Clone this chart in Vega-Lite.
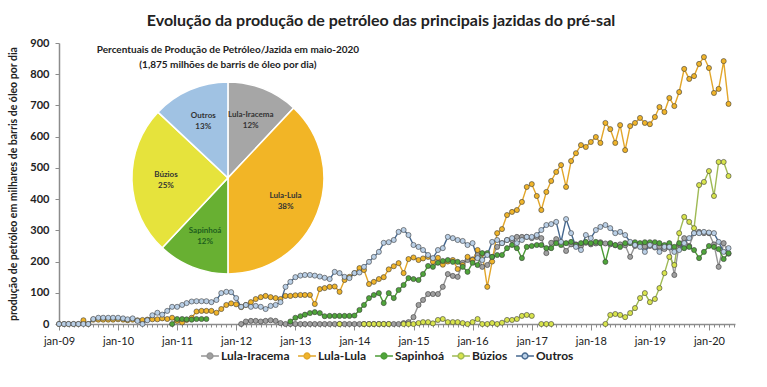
{
"$schema": "https://vega.github.io/schema/vega-lite/v6.json",
"width": 676,
"height": 281,
"autosize": {"type": "none"},
"padding": {"left": 59, "top": 43, "right": 32, "bottom": 63},
"background": "white",
"title": {"text": "Evolução da produção de petróleo das principais jazidas do pré-sal", "font": "Lato", "fontSize": 16, "fontWeight": "bold", "color": "#222222", "anchor": "middle", "dx": -16, "offset": 8},
"config": {"view": {"stroke": null}, "font": "Lato"},
"data": {"values": [
{"m":"2009-01-01","Lula-Iracema":null,"Lula-Lula":0,"Sapinhoá":null,"Búzios":null,"Outros":0},
{"m":"2009-02-01","Lula-Iracema":null,"Lula-Lula":0,"Sapinhoá":null,"Búzios":null,"Outros":0},
{"m":"2009-03-01","Lula-Iracema":null,"Lula-Lula":0,"Sapinhoá":null,"Búzios":null,"Outros":0},
{"m":"2009-04-01","Lula-Iracema":null,"Lula-Lula":0,"Sapinhoá":null,"Búzios":null,"Outros":0},
{"m":"2009-05-01","Lula-Iracema":null,"Lula-Lula":0,"Sapinhoá":null,"Búzios":null,"Outros":0},
{"m":"2009-06-01","Lula-Iracema":null,"Lula-Lula":12,"Sapinhoá":null,"Búzios":null,"Outros":0},
{"m":"2009-07-01","Lula-Iracema":null,"Lula-Lula":0,"Sapinhoá":null,"Búzios":null,"Outros":0},
{"m":"2009-08-01","Lula-Iracema":null,"Lula-Lula":14,"Sapinhoá":null,"Búzios":null,"Outros":16},
{"m":"2009-09-01","Lula-Iracema":null,"Lula-Lula":14,"Sapinhoá":null,"Búzios":null,"Outros":20},
{"m":"2009-10-01","Lula-Iracema":null,"Lula-Lula":14,"Sapinhoá":null,"Búzios":null,"Outros":20},
{"m":"2009-11-01","Lula-Iracema":null,"Lula-Lula":14,"Sapinhoá":null,"Búzios":null,"Outros":20},
{"m":"2009-12-01","Lula-Iracema":null,"Lula-Lula":14,"Sapinhoá":null,"Búzios":null,"Outros":20},
{"m":"2010-01-01","Lula-Iracema":null,"Lula-Lula":15,"Sapinhoá":null,"Búzios":null,"Outros":20},
{"m":"2010-02-01","Lula-Iracema":null,"Lula-Lula":14,"Sapinhoá":null,"Búzios":null,"Outros":18},
{"m":"2010-03-01","Lula-Iracema":null,"Lula-Lula":12,"Sapinhoá":null,"Búzios":null,"Outros":15},
{"m":"2010-04-01","Lula-Iracema":null,"Lula-Lula":14,"Sapinhoá":null,"Búzios":null,"Outros":18},
{"m":"2010-05-01","Lula-Iracema":null,"Lula-Lula":12,"Sapinhoá":null,"Búzios":null,"Outros":10},
{"m":"2010-06-01","Lula-Iracema":null,"Lula-Lula":13,"Sapinhoá":null,"Búzios":null,"Outros":0},
{"m":"2010-07-01","Lula-Iracema":null,"Lula-Lula":14,"Sapinhoá":null,"Búzios":null,"Outros":12},
{"m":"2010-08-01","Lula-Iracema":null,"Lula-Lula":15,"Sapinhoá":null,"Búzios":null,"Outros":28},
{"m":"2010-09-01","Lula-Iracema":null,"Lula-Lula":15,"Sapinhoá":null,"Búzios":null,"Outros":36},
{"m":"2010-10-01","Lula-Iracema":null,"Lula-Lula":18,"Sapinhoá":null,"Búzios":null,"Outros":30},
{"m":"2010-11-01","Lula-Iracema":null,"Lula-Lula":16,"Sapinhoá":null,"Búzios":null,"Outros":42},
{"m":"2010-12-01","Lula-Iracema":null,"Lula-Lula":20,"Sapinhoá":0,"Búzios":null,"Outros":55},
{"m":"2011-01-01","Lula-Iracema":null,"Lula-Lula":10,"Sapinhoá":16,"Búzios":null,"Outros":55},
{"m":"2011-02-01","Lula-Iracema":null,"Lula-Lula":5,"Sapinhoá":16,"Búzios":null,"Outros":61},
{"m":"2011-03-01","Lula-Iracema":null,"Lula-Lula":13,"Sapinhoá":15,"Búzios":null,"Outros":67},
{"m":"2011-04-01","Lula-Iracema":null,"Lula-Lula":20,"Sapinhoá":14,"Búzios":null,"Outros":72},
{"m":"2011-05-01","Lula-Iracema":null,"Lula-Lula":40,"Sapinhoá":16,"Búzios":null,"Outros":73},
{"m":"2011-06-01","Lula-Iracema":null,"Lula-Lula":42,"Sapinhoá":16,"Búzios":null,"Outros":73},
{"m":"2011-07-01","Lula-Iracema":null,"Lula-Lula":42,"Sapinhoá":16,"Búzios":null,"Outros":73},
{"m":"2011-08-01","Lula-Iracema":null,"Lula-Lula":42,"Sapinhoá":null,"Búzios":null,"Outros":70},
{"m":"2011-09-01","Lula-Iracema":null,"Lula-Lula":36,"Sapinhoá":null,"Búzios":null,"Outros":77},
{"m":"2011-10-01","Lula-Iracema":null,"Lula-Lula":48,"Sapinhoá":null,"Búzios":null,"Outros":99},
{"m":"2011-11-01","Lula-Iracema":null,"Lula-Lula":61,"Sapinhoá":null,"Búzios":null,"Outros":103},
{"m":"2011-12-01","Lula-Iracema":null,"Lula-Lula":66,"Sapinhoá":null,"Búzios":null,"Outros":102},
{"m":"2012-01-01","Lula-Iracema":null,"Lula-Lula":63,"Sapinhoá":null,"Búzios":null,"Outros":83},
{"m":"2012-02-01","Lula-Iracema":0,"Lula-Lula":54,"Sapinhoá":null,"Búzios":null,"Outros":55},
{"m":"2012-03-01","Lula-Iracema":8,"Lula-Lula":61,"Sapinhoá":null,"Búzios":null,"Outros":61},
{"m":"2012-04-01","Lula-Iracema":10,"Lula-Lula":70,"Sapinhoá":null,"Búzios":null,"Outros":55},
{"m":"2012-05-01","Lula-Iracema":10,"Lula-Lula":80,"Sapinhoá":null,"Búzios":null,"Outros":58},
{"m":"2012-06-01","Lula-Iracema":8,"Lula-Lula":86,"Sapinhoá":null,"Búzios":null,"Outros":55},
{"m":"2012-07-01","Lula-Iracema":10,"Lula-Lula":90,"Sapinhoá":null,"Búzios":null,"Outros":48},
{"m":"2012-08-01","Lula-Iracema":12,"Lula-Lula":86,"Sapinhoá":null,"Búzios":null,"Outros":58},
{"m":"2012-09-01","Lula-Iracema":10,"Lula-Lula":83,"Sapinhoá":null,"Búzios":null,"Outros":61},
{"m":"2012-10-01","Lula-Iracema":3,"Lula-Lula":80,"Sapinhoá":null,"Búzios":null,"Outros":70},
{"m":"2012-11-01","Lula-Iracema":0,"Lula-Lula":90,"Sapinhoá":null,"Búzios":null,"Outros":119},
{"m":"2012-12-01","Lula-Iracema":0,"Lula-Lula":90,"Sapinhoá":8,"Búzios":null,"Outros":135},
{"m":"2013-01-01","Lula-Iracema":0,"Lula-Lula":92,"Sapinhoá":20,"Búzios":null,"Outros":150},
{"m":"2013-02-01","Lula-Iracema":0,"Lula-Lula":93,"Sapinhoá":25,"Búzios":null,"Outros":155},
{"m":"2013-03-01","Lula-Iracema":0,"Lula-Lula":93,"Sapinhoá":30,"Búzios":null,"Outros":157},
{"m":"2013-04-01","Lula-Iracema":0,"Lula-Lula":93,"Sapinhoá":35,"Búzios":null,"Outros":157},
{"m":"2013-05-01","Lula-Iracema":0,"Lula-Lula":64,"Sapinhoá":38,"Búzios":null,"Outros":155},
{"m":"2013-06-01","Lula-Iracema":0,"Lula-Lula":112,"Sapinhoá":35,"Búzios":null,"Outros":152},
{"m":"2013-07-01","Lula-Iracema":0,"Lula-Lula":115,"Sapinhoá":25,"Búzios":null,"Outros":148},
{"m":"2013-08-01","Lula-Iracema":0,"Lula-Lula":119,"Sapinhoá":26,"Búzios":null,"Outros":144},
{"m":"2013-09-01","Lula-Iracema":0,"Lula-Lula":120,"Sapinhoá":26,"Búzios":null,"Outros":167},
{"m":"2013-10-01","Lula-Iracema":0,"Lula-Lula":103,"Sapinhoá":26,"Búzios":0,"Outros":163},
{"m":"2013-11-01","Lula-Iracema":0,"Lula-Lula":141,"Sapinhoá":26,"Búzios":null,"Outros":151},
{"m":"2013-12-01","Lula-Iracema":0,"Lula-Lula":151,"Sapinhoá":26,"Búzios":null,"Outros":147},
{"m":"2014-01-01","Lula-Iracema":0,"Lula-Lula":163,"Sapinhoá":27,"Búzios":null,"Outros":163},
{"m":"2014-02-01","Lula-Iracema":0,"Lula-Lula":179,"Sapinhoá":45,"Búzios":null,"Outros":165},
{"m":"2014-03-01","Lula-Iracema":0,"Lula-Lula":173,"Sapinhoá":61,"Búzios":0,"Outros":183},
{"m":"2014-04-01","Lula-Iracema":0,"Lula-Lula":128,"Sapinhoá":83,"Búzios":0,"Outros":199},
{"m":"2014-05-01","Lula-Iracema":0,"Lula-Lula":135,"Sapinhoá":93,"Búzios":0,"Outros":215},
{"m":"2014-06-01","Lula-Iracema":0,"Lula-Lula":144,"Sapinhoá":99,"Búzios":0,"Outros":231},
{"m":"2014-07-01","Lula-Iracema":0,"Lula-Lula":150,"Sapinhoá":67,"Búzios":0,"Outros":260},
{"m":"2014-08-01","Lula-Iracema":0,"Lula-Lula":175,"Sapinhoá":99,"Búzios":0,"Outros":262},
{"m":"2014-09-01","Lula-Iracema":0,"Lula-Lula":185,"Sapinhoá":83,"Búzios":null,"Outros":269},
{"m":"2014-10-01","Lula-Iracema":0,"Lula-Lula":195,"Sapinhoá":109,"Búzios":null,"Outros":295},
{"m":"2014-11-01","Lula-Iracema":3,"Lula-Lula":163,"Sapinhoá":125,"Búzios":0,"Outros":301},
{"m":"2014-12-01","Lula-Iracema":6,"Lula-Lula":208,"Sapinhoá":147,"Búzios":0,"Outros":285},
{"m":"2015-01-01","Lula-Iracema":22,"Lula-Lula":213,"Sapinhoá":144,"Búzios":0,"Outros":253},
{"m":"2015-02-01","Lula-Iracema":61,"Lula-Lula":205,"Sapinhoá":141,"Búzios":3,"Outros":247},
{"m":"2015-03-01","Lula-Iracema":77,"Lula-Lula":210,"Sapinhoá":160,"Búzios":6,"Outros":237},
{"m":"2015-04-01","Lula-Iracema":96,"Lula-Lula":215,"Sapinhoá":186,"Búzios":6,"Outros":221},
{"m":"2015-05-01","Lula-Iracema":96,"Lula-Lula":199,"Sapinhoá":183,"Búzios":2,"Outros":211},
{"m":"2015-06-01","Lula-Iracema":96,"Lula-Lula":212,"Sapinhoá":196,"Búzios":13,"Outros":237},
{"m":"2015-07-01","Lula-Iracema":119,"Lula-Lula":190,"Sapinhoá":202,"Búzios":16,"Outros":243},
{"m":"2015-08-01","Lula-Iracema":160,"Lula-Lula":200,"Sapinhoá":205,"Búzios":6,"Outros":279},
{"m":"2015-09-01","Lula-Iracema":154,"Lula-Lula":205,"Sapinhoá":199,"Búzios":6,"Outros":275},
{"m":"2015-10-01","Lula-Iracema":151,"Lula-Lula":176,"Sapinhoá":199,"Búzios":6,"Outros":269},
{"m":"2015-11-01","Lula-Iracema":196,"Lula-Lula":189,"Sapinhoá":183,"Búzios":3,"Outros":266},
{"m":"2015-12-01","Lula-Iracema":205,"Lula-Lula":215,"Sapinhoá":167,"Búzios":0,"Outros":253},
{"m":"2016-01-01","Lula-Iracema":207,"Lula-Lula":205,"Sapinhoá":196,"Búzios":6,"Outros":259},
{"m":"2016-02-01","Lula-Iracema":221,"Lula-Lula":237,"Sapinhoá":189,"Búzios":16,"Outros":211},
{"m":"2016-03-01","Lula-Iracema":183,"Lula-Lula":225,"Sapinhoá":227,"Búzios":0,"Outros":205},
{"m":"2016-04-01","Lula-Iracema":189,"Lula-Lula":119,"Sapinhoá":227,"Búzios":0,"Outros":221},
{"m":"2016-05-01","Lula-Iracema":215,"Lula-Lula":200,"Sapinhoá":215,"Búzios":3,"Outros":263},
{"m":"2016-06-01","Lula-Iracema":247,"Lula-Lula":291,"Sapinhoá":221,"Búzios":0,"Outros":269},
{"m":"2016-07-01","Lula-Iracema":259,"Lula-Lula":304,"Sapinhoá":221,"Búzios":4,"Outros":259},
{"m":"2016-08-01","Lula-Iracema":269,"Lula-Lula":349,"Sapinhoá":243,"Búzios":13,"Outros":269},
{"m":"2016-09-01","Lula-Iracema":269,"Lula-Lula":359,"Sapinhoá":253,"Búzios":13,"Outros":275},
{"m":"2016-10-01","Lula-Iracema":279,"Lula-Lula":365,"Sapinhoá":243,"Búzios":16,"Outros":259},
{"m":"2016-11-01","Lula-Iracema":279,"Lula-Lula":391,"Sapinhoá":211,"Búzios":26,"Outros":269},
{"m":"2016-12-01","Lula-Iracema":279,"Lula-Lula":439,"Sapinhoá":247,"Búzios":29,"Outros":279},
{"m":"2017-01-01","Lula-Iracema":275,"Lula-Lula":448,"Sapinhoá":250,"Búzios":26,"Outros":279},
{"m":"2017-02-01","Lula-Iracema":279,"Lula-Lula":410,"Sapinhoá":253,"Búzios":null,"Outros":285},
{"m":"2017-03-01","Lula-Iracema":275,"Lula-Lula":365,"Sapinhoá":253,"Búzios":0,"Outros":301},
{"m":"2017-04-01","Lula-Iracema":227,"Lula-Lula":423,"Sapinhoá":243,"Búzios":0,"Outros":317},
{"m":"2017-05-01","Lula-Iracema":260,"Lula-Lula":458,"Sapinhoá":243,"Búzios":0,"Outros":320},
{"m":"2017-06-01","Lula-Iracema":272,"Lula-Lula":487,"Sapinhoá":259,"Búzios":null,"Outros":327},
{"m":"2017-07-01","Lula-Iracema":260,"Lula-Lula":509,"Sapinhoá":253,"Búzios":null,"Outros":263},
{"m":"2017-08-01","Lula-Iracema":234,"Lula-Lula":439,"Sapinhoá":259,"Búzios":null,"Outros":336},
{"m":"2017-09-01","Lula-Iracema":255,"Lula-Lula":522,"Sapinhoá":263,"Búzios":null,"Outros":291},
{"m":"2017-10-01","Lula-Iracema":255,"Lula-Lula":547,"Sapinhoá":253,"Búzios":null,"Outros":247},
{"m":"2017-11-01","Lula-Iracema":250,"Lula-Lula":573,"Sapinhoá":259,"Búzios":null,"Outros":237},
{"m":"2017-12-01","Lula-Iracema":260,"Lula-Lula":567,"Sapinhoá":263,"Búzios":null,"Outros":285},
{"m":"2018-01-01","Lula-Iracema":255,"Lula-Lula":583,"Sapinhoá":259,"Búzios":null,"Outros":275},
{"m":"2018-02-01","Lula-Iracema":258,"Lula-Lula":599,"Sapinhoá":263,"Búzios":null,"Outros":301},
{"m":"2018-03-01","Lula-Iracema":262,"Lula-Lula":580,"Sapinhoá":259,"Búzios":null,"Outros":311},
{"m":"2018-04-01","Lula-Iracema":258,"Lula-Lula":644,"Sapinhoá":199,"Búzios":0,"Outros":317},
{"m":"2018-05-01","Lula-Iracema":255,"Lula-Lula":624,"Sapinhoá":259,"Búzios":29,"Outros":307},
{"m":"2018-06-01","Lula-Iracema":252,"Lula-Lula":580,"Sapinhoá":253,"Búzios":32,"Outros":291},
{"m":"2018-07-01","Lula-Iracema":255,"Lula-Lula":637,"Sapinhoá":247,"Búzios":29,"Outros":295},
{"m":"2018-08-01","Lula-Iracema":252,"Lula-Lula":557,"Sapinhoá":259,"Búzios":22,"Outros":285},
{"m":"2018-09-01","Lula-Iracema":215,"Lula-Lula":634,"Sapinhoá":259,"Búzios":35,"Outros":263},
{"m":"2018-10-01","Lula-Iracema":250,"Lula-Lula":644,"Sapinhoá":262,"Búzios":51,"Outros":253},
{"m":"2018-11-01","Lula-Iracema":253,"Lula-Lula":660,"Sapinhoá":259,"Búzios":83,"Outros":247},
{"m":"2018-12-01","Lula-Iracema":248,"Lula-Lula":644,"Sapinhoá":262,"Búzios":99,"Outros":231},
{"m":"2019-01-01","Lula-Iracema":250,"Lula-Lula":640,"Sapinhoá":262,"Búzios":70,"Outros":253},
{"m":"2019-02-01","Lula-Iracema":245,"Lula-Lula":663,"Sapinhoá":262,"Búzios":80,"Outros":247},
{"m":"2019-03-01","Lula-Iracema":248,"Lula-Lula":695,"Sapinhoá":259,"Búzios":115,"Outros":231},
{"m":"2019-04-01","Lula-Iracema":240,"Lula-Lula":679,"Sapinhoá":253,"Búzios":163,"Outros":247},
{"m":"2019-05-01","Lula-Iracema":245,"Lula-Lula":724,"Sapinhoá":259,"Búzios":215,"Outros":247},
{"m":"2019-06-01","Lula-Iracema":157,"Lula-Lula":698,"Sapinhoá":247,"Búzios":189,"Outros":231},
{"m":"2019-07-01","Lula-Iracema":255,"Lula-Lula":743,"Sapinhoá":259,"Búzios":291,"Outros":237},
{"m":"2019-08-01","Lula-Iracema":275,"Lula-Lula":817,"Sapinhoá":243,"Búzios":343,"Outros":259},
{"m":"2019-09-01","Lula-Iracema":250,"Lula-Lula":785,"Sapinhoá":247,"Búzios":327,"Outros":275},
{"m":"2019-10-01","Lula-Iracema":291,"Lula-Lula":794,"Sapinhoá":237,"Búzios":307,"Outros":291},
{"m":"2019-11-01","Lula-Iracema":295,"Lula-Lula":833,"Sapinhoá":211,"Búzios":445,"Outros":291},
{"m":"2019-12-01","Lula-Iracema":291,"Lula-Lula":855,"Sapinhoá":231,"Búzios":455,"Outros":295},
{"m":"2020-01-01","Lula-Iracema":291,"Lula-Lula":820,"Sapinhoá":250,"Búzios":490,"Outros":293},
{"m":"2020-02-01","Lula-Iracema":255,"Lula-Lula":740,"Sapinhoá":247,"Búzios":410,"Outros":291},
{"m":"2020-03-01","Lula-Iracema":183,"Lula-Lula":753,"Sapinhoá":240,"Búzios":519,"Outros":263},
{"m":"2020-04-01","Lula-Iracema":259,"Lula-Lula":842,"Sapinhoá":208,"Búzios":519,"Outros":231},
{"m":"2020-05-01","Lula-Iracema":225,"Lula-Lula":705,"Sapinhoá":227,"Búzios":474,"Outros":243}
]},
"layer": [
{
"transform": [{"fold": ["Lula-Iracema", "Lula-Lula", "Sapinhoá", "Búzios", "Outros"], "as": ["jazida", "valor"]}],
"mark": {"type": "line", "strokeWidth": 1.4, "invalid": "break-paths-show-domains"},
"encoding": {
"x": {"field": "m", "type": "temporal", "scale": {"type": "utc", "domain": ["2009-01-01", "2020-06-10"]},
"axis": {"title": null, "tickCount": {"interval": "month", "step": 1}, "labelExpr": "utcmonth(datum.value) == 0 ? 'jan-' + utcFormat(datum.value, '%y') : ''", "labelOverlap": false, "labelFlush": false, "grid": false, "domainColor": "#8c8c8c", "domainWidth": 1.5, "tickColor": "#8c8c8c", "tickSize": {"condition": {"test": "utcmonth(datum.value) == 0", "value": 6}, "value": 3}, "labelFont": "Lato", "labelFontSize": 11, "labelColor": "#222222", "labelPadding": 5}},
"y": {"field": "valor", "type": "quantitative", "scale": {"domain": [0, 900], "nice": false},
"axis": {"title": "produção de petróleo em milhares de barris de óleo por dia", "titleFont": "Lato", "titleFontSize": 10.5, "titleFontWeight": "bold", "titleColor": "#222222", "titlePadding": 11, "values": [0,100,200,300,400,500,600,700,800,900], "tickCount": 10, "labelOverlap": false, "labelFlush": false, "grid": false, "labelFont": "Lato", "labelFontSize": 11, "labelFontWeight": "bold", "labelColor": "#222222", "labelPadding": 6, "tickSize": 4, "domainColor": "#8c8c8c", "domainWidth": 1.5, "tickColor": "#8c8c8c"}},
"stroke": {"field": "jazida", "type": "nominal",
"scale": {"domain": ["Lula-Iracema", "Lula-Lula", "Sapinhoá", "Búzios", "Outros"], "range": ["#959595", "#e2a62a", "#4c9c36", "#9fba55", "#46688f"]},
"legend": {"orient": "none", "legendX": 141, "legendY": 303, "direction": "horizontal", "title": null, "labelFont": "Lato", "labelFontSize": 12, "labelFontWeight": "bold", "labelColor": "#222222", "symbolType": "M-1,0H-0.33M0.33,0H1M-0.33,0A0.33,0.33 0 1,0 0.33,0A0.33,0.33 0 1,0 -0.33,0", "symbolSize": 320, "symbolStrokeWidth": 1.4, "columnPadding": 5, "labelOffset": 1,
"encode": {"symbols": {"update": {"fill": {"scale": "fill", "field": "value"}, "stroke": {"scale": "stroke", "field": "value"}}}}}}
}
},
{
"transform": [{"fold": ["Lula-Iracema", "Lula-Lula", "Sapinhoá", "Búzios", "Outros"], "as": ["jazida", "valor"]}],
"mark": {"type": "point", "filled": true, "size": 26, "stroke": "#3a3a3a", "strokeWidth": 0.6, "opacity": 1},
"encoding": {
"x": {"field": "m", "type": "temporal"},
"y": {"field": "valor", "type": "quantitative"},
"fill": {"field": "jazida", "type": "nominal",
"scale": {"domain": ["Lula-Iracema", "Lula-Lula", "Sapinhoá", "Búzios", "Outros"], "range": ["#a0a0a0", "#f0b429", "#4fa53a", "#d8e44c", "#b9cfe6"]},
"legend": null}
}
},
{
"data": {"values": [
{"jazida": "Lula-Iracema", "pct": 0.12, "ordem": 1},
{"jazida": "Lula-Lula", "pct": 0.38, "ordem": 2},
{"jazida": "Sapinhoá", "pct": 0.12, "ordem": 3},
{"jazida": "Búzios", "pct": 0.25, "ordem": 4},
{"jazida": "Outros", "pct": 0.13, "ordem": 5}
]},
"layer": [
{
"mark": {"type": "arc", "outerRadius": 96, "stroke": "white", "strokeWidth": 1.5},
"encoding": {
"theta": {"field": "pct", "type": "quantitative", "stack": true},
"order": {"field": "ordem", "type": "quantitative"},
"color": {"field": "jazida", "type": "nominal", "scale": {"domain": ["Lula-Iracema", "Lula-Lula", "Sapinhoá", "Búzios", "Outros"], "range": ["#a6a6a6", "#f2b526", "#68b032", "#e6e33c", "#a0c2e3"]}, "legend": null},
"x": {"datum": {"year": 2011, "month": 11, "date": 11, "utc": true}, "type": "temporal"},
"y": {"datum": 468, "type": "quantitative"}
}
},
{
"mark": {"type": "text", "radius": 62, "dy": -5, "fontSize": 8, "fontWeight": "bold", "font": "Lato"},
"encoding": {
"theta": {"field": "pct", "type": "quantitative", "stack": true},
"order": {"field": "ordem", "type": "quantitative"},
"text": {"field": "jazida", "type": "nominal"},
"color": {"condition": {"test": "datum.jazida === 'Sapinhoá'", "value": "#1d5e1d"}, "value": "#333333"},
"x": {"datum": {"year": 2011, "month": 11, "date": 11, "utc": true}, "type": "temporal"},
"y": {"datum": 468, "type": "quantitative"}
}
},
{
"mark": {"type": "text", "radius": 62, "dy": 6, "fontSize": 8, "fontWeight": "bold", "font": "Lato"},
"encoding": {
"theta": {"field": "pct", "type": "quantitative", "stack": true},
"order": {"field": "ordem", "type": "quantitative"},
"text": {"field": "pct", "type": "quantitative", "format": ".0%"},
"color": {"condition": {"test": "datum.jazida === 'Sapinhoá'", "value": "#1d5e1d"}, "value": "#333333"},
"x": {"datum": {"year": 2011, "month": 11, "date": 11, "utc": true}, "type": "temporal"},
"y": {"datum": 468, "type": "quantitative"}
}
}
]
},
{
"data": {"values": [{}]},
"mark": {"type": "text", "text": ["Percentuais de Produção de Petróleo/Jazida em maio-2020", "(1,875 milhões de barris de óleo por dia)"], "fontSize": 10, "fontWeight": "bold", "font": "Lato", "lineHeight": 15, "align": "center", "baseline": "middle", "color": "#222222"},
"encoding": {
"x": {"datum": {"year": 2011, "month": 11, "date": 11, "utc": true}, "type": "temporal"},
"y": {"datum": 877, "type": "quantitative"}
}
}
]
}
